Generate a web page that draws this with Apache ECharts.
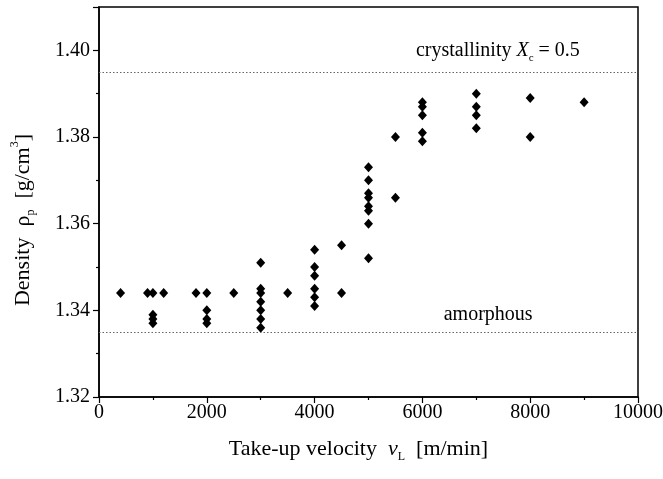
<!DOCTYPE html>
<html>
<head>
<meta charset="utf-8">
<script src="https://cdn.jsdelivr.net/npm/echarts@6/dist/echarts.min.js"></script>
<style>
html, body { margin: 0; padding: 0; background: #fff; }
#box1 { width: 663px; height: 479px; }
</style>
</head>
<body>
<div id="box1"></div>
<script>
// take-up velocity [m/min]
var velocity = [400, 900, 1000, 1200, 1000, 1000, 1000, 1800,
    2000, 2000, 2000, 2000, 2500,
    3000, 3000, 3000, 3000, 3000, 3000, 3000, 3500,
    4000, 4000, 4000, 4000, 4000, 4000, 4500, 4500,
    5000, 5000, 5000, 5000, 5000, 5000, 5000, 5000, 5500, 5500,
    6000, 6000, 6000, 6000, 6000,
    7000, 7000, 7000, 7000, 8000, 8000, 9000];
// density [g/cm3]
var density = [1.344, 1.344, 1.344, 1.344, 1.339, 1.338, 1.337, 1.344,
    1.344, 1.340, 1.338, 1.337, 1.344,
    1.351, 1.345, 1.344, 1.342, 1.340, 1.338, 1.336, 1.344,
    1.354, 1.350, 1.348, 1.345, 1.343, 1.341, 1.355, 1.344,
    1.373, 1.370, 1.367, 1.366, 1.364, 1.363, 1.360, 1.352, 1.380, 1.366,
    1.388, 1.387, 1.385, 1.381, 1.379,
    1.390, 1.387, 1.385, 1.382, 1.389, 1.380, 1.388];
var refLines = [1.395, 1.335];

var points = velocity.map(function (v, i) { return [v, density[i]]; });

var dom = document.getElementById("box1");
var myChart = echarts.init(dom);
var font = 'Liberation Serif';
var axisCommon = {
    axisLine: { onZero: false, lineStyle: { color: '#000', width: 1.5 } },
    axisTick: { inside: false, length: 6, lineStyle: { color: '#000', width: 1.2 } },
    minorTick: { show: true, splitNumber: 2, length: 3, lineStyle: { color: '#000', width: 1.2 } },
    splitLine: { show: false },
    minorSplitLine: { show: false }
};

var option = {
    animation: false,
    textStyle: { fontFamily: font, color: '#000' },
    grid: {
        left: 99, right: 25, top: 7, bottom: 82, outerBoundsMode: 'none',
        show: true, borderColor: '#000', borderWidth: 1.5
    },
    xAxis: Object.assign({
        type: 'value', min: 0, max: 10000, interval: 2000,
        axisLabel: {
            fontFamily: font, fontSize: 20, color: '#000', margin: 6,
            formatter: function (v) { return String(v); }
        },
        name: 'Take-up velocity  {it|v}{sub|L}  [m/min]',
        nameLocation: 'middle', nameGap: 38,
        nameTextStyle: {
            fontFamily: font, fontSize: 22, color: '#000', lineHeight: 28,
            padding: [0, 20, 0, 0],
            rich: {
                it: { fontFamily: font, fontSize: 22, fontStyle: 'italic', color: '#000' },
                sub: { fontFamily: font, fontSize: 12, color: '#000', verticalAlign: 'bottom', padding: [14, 0, 0, 0] }
            }
        }
    }, axisCommon),
    yAxis: Object.assign({
        type: 'value', min: 1.32, max: 1.41, interval: 0.02,
        axisLabel: {
            fontFamily: font, fontSize: 20, color: '#000', margin: 9, showMaxLabel: false,
            formatter: function (v) { return v.toFixed(2); }
        },
        name: 'Density  ρ{sub|p}  [g/cm{sup|3}]',
        nameLocation: 'middle', nameGap: 62,
        nameTextStyle: {
            fontFamily: font, fontSize: 22, color: '#000', lineHeight: 28,
            padding: [0, 36, 0, 0],
            rich: {
                sub: { fontFamily: font, fontSize: 12, color: '#000', verticalAlign: 'bottom', padding: [14, 0, 0, 0] },
                sup: { fontFamily: font, fontSize: 12, color: '#000', verticalAlign: 'top', padding: [0, 0, 14, 0] }
            }
        }
    }, axisCommon),
    series: [
        {
            type: 'scatter',
            data: points,
            symbol: 'diamond',
            symbolSize: [9, 10],
            itemStyle: { color: '#000', opacity: 1 },
            markLine: {
                silent: true,
                precision: 3,
                symbol: ['none', 'none'],
                label: { show: false },
                lineStyle: { type: [1.5, 2], color: '#666', width: 1.2 },
                data: refLines.map(function (y) { return { yAxis: y }; })
            },
            markPoint: {
                silent: true,
                symbol: 'circle',
                symbolSize: 0,
                label: { show: true, fontFamily: font, fontSize: 20, color: '#000' },
                data: [
                    {
                        coord: [7400, 1.3998],
                        label: {
                            formatter: 'crystallinity {it|X}{sub|c} = 0.5',
                            lineHeight: 24,
                            rich: {
                                it: { fontFamily: font, fontSize: 20, fontStyle: 'italic', color: '#000' },
                                sub: { fontFamily: font, fontSize: 11, color: '#000', verticalAlign: 'bottom', padding: [12, 0, 0, 0] }
                            }
                        }
                    },
                    { coord: [7220, 1.3390], label: { formatter: 'amorphous' } }
                ]
            }
        }
    ]
};

myChart.setOption(option, true);
</script>
</body>
</html>
